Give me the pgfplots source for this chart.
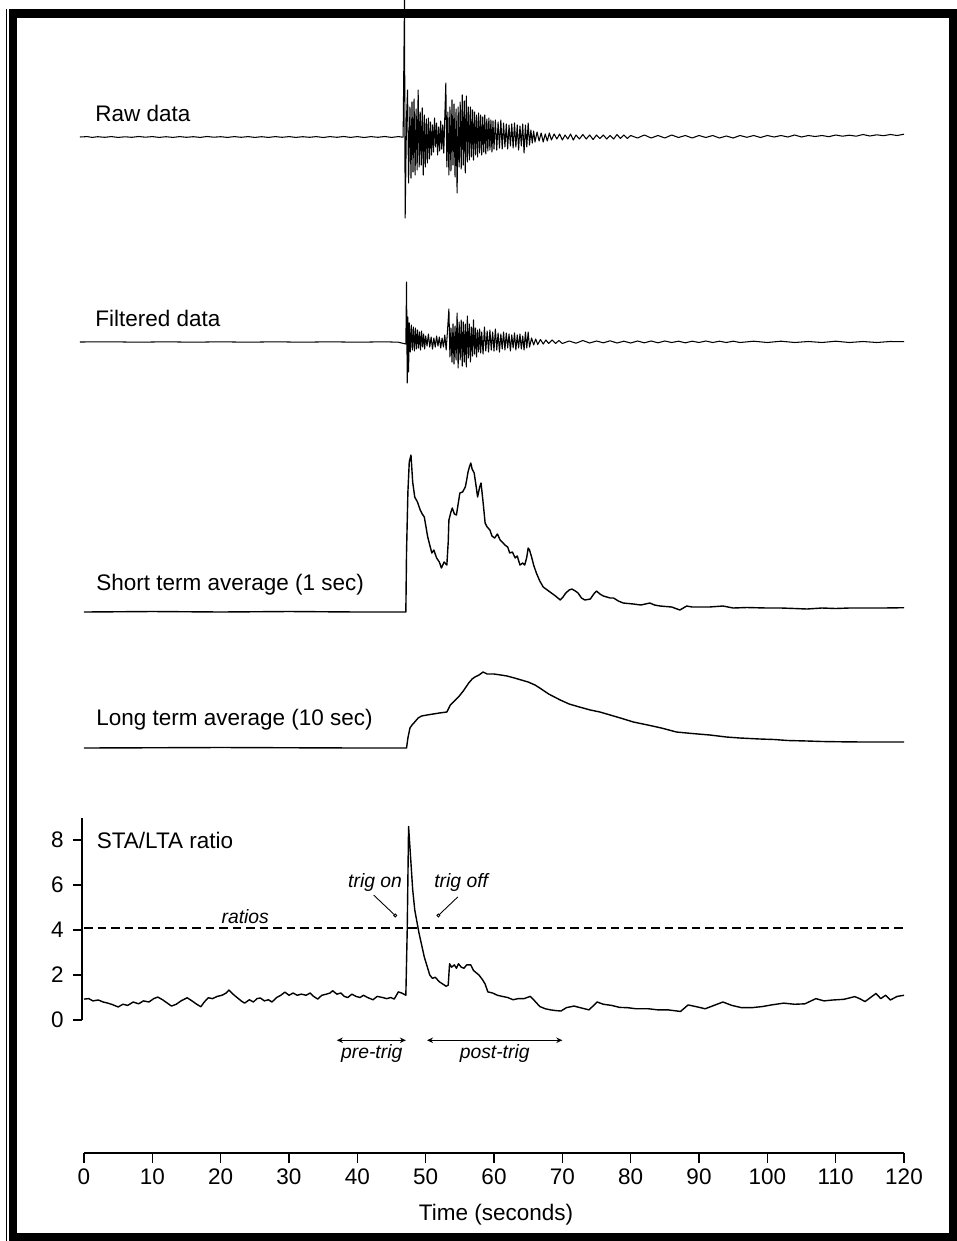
\documentclass[border=0pt]{standalone}
\usepackage{fontspec}
\setmainfont{Liberation Sans}
\usepackage{pgfplots}
\pgfplotsset{compat=1.18}
\usetikzlibrary{arrows.meta}

% one pixel of the reference = 0.2mm; 1 s = 6.8333 px
\pgfplotsset{
  trace/.style={hide axis, x=1.366667mm, y=0.2mm, xmin=-1, xmax=121,
    clip=false, anchor=origin, line join=round},
  /pgf/number format/assume math mode=true,
}
\newcommand{\lab}{\fontsize{12.8}{15}\selectfont}
\newcommand{\ilab}{\fontsize{11}{13}\selectfont\itshape}

\begin{document}
\begin{tikzpicture}[font=\lab]
\useasboundingbox (0,0) rectangle (191.4mm,-248.2mm);
\draw[line width=1.7mm] (2.6mm,-2.7mm) rectangle (190.6mm,-247.4mm);
\draw[line width=0.3mm] (1.3mm,-1.8mm) -- (1.3mm,-248.2mm);

% ---------- raw data
\begin{axis}[trace, at={(16.8mm,-27.4mm)}, ymin=-100, ymax=140]
\addplot[black, line width=0.6pt] coordinates {
(-0.6,0)(0.5,0.4)(1.2,-0.4)(2,0.3)(3,-0.3)(4,0.4)(5,-0.4)(6,0.2)(7,-0.3)(8,0.5)(9,-0.2)(10,0.4)
(11,-0.4)(12,0.3)(13,-0.4)(14,0.4)(15,-0.3)(16,0.3)(17,-0.4)(18,0.5)(19,-0.2)(20,0.3)(21,-0.4)
(22,0.4)(23,-0.3)(24,0.4)(25,-0.4)(26,0.3)(27,-0.4)(28,0.4)(29,-0.3)(30,0.4)(31,-0.4)(32,0.3)
(33,-0.3)(34,0.4)(35,-0.5)(36,0.4)(37,-0.3)(38,0.5)(39,-0.4)(40,0.4)(41,-0.5)(42,0.4)(43,-0.3)
(44,0.5)(45,-0.4)(46,0.4)(46.7,-0.2)
(46.9,137)(47.0,-81)(47.2,20)(47.35,47)(47.5,-46)(47.7,30)(47.85,-41)(48.0,35)(48.15,-35)
(48.3,38)(48.45,-38)(48.6,28)(48.75,-33)(48.9,47)(49.05,-30)(49.2,25)(49.35,-28)(49.5,29)
(49.65,-38)(49.8,22)(49.95,-30)(50.1,18)(50.25,-26)(50.4,19)(50.55,-22)(50.7,15)(50.85,-18)
(51.0,12)(51.15,-15)(51.3,19)(51.45,-10)(51.6,14)(51.75,-18)(51.9,10)(52.05,-14)(52.2,16)
(52.35,-12)(52.5,12)(52.65,-16)(52.8,20)(52.95,54)(53.1,-30)(53.25,25)(53.4,-38)(53.55,30)
(53.7,-34)(53.85,37)(54.0,-28)(54.15,33)(54.3,-40)(54.45,28)(54.6,-56)(54.75,30)(54.9,-30)
(55.05,35)(55.2,-32)(55.35,42)(55.5,-28)(55.65,36)(55.8,-36)(55.95,41)(56.1,-25)(56.25,30)
(56.4,-23)(56.55,30)(56.7,-20)(56.85,27)(57.0,-23)(57.15,25)(57.3,-18)(57.45,22)(57.6,-20)
(57.75,24)(57.9,-16)(58.05,22)(58.2,-18)(58.35,20)(58.5,-15)(58.65,22)(58.8,-17)(58.95,18)
(59.1,-14)(59.25,19)(59.4,-13)(59.55,17)(59.7,-15)(59.85,16)(60.0,-12)(60.2,17)(60.4,-13)
(60.6,15)(60.8,-11)(61.0,17)(61.2,-12)(61.4,14)(61.6,-10)(61.8,13)(62.0,-12)(62.2,12)
(62.4,-9)(62.6,13)(62.8,-11)(63.0,14)(63.2,-10)(63.4,12)(63.6,-13)(63.8,11)(64.0,-9)
(64.2,13)(64.4,-16)(64.6,12)(64.8,-10)(65.0,14)(65.2,-8)(65.4,7)(65.6,-6)(65.8,6)(66.0,-5)
(66.3,5)(66.6,-4)(66.9,4)(67.2,-5)(67.5,3)(67.8,-4)(68.1,4)(68.4,-3)(68.8,3)(69.2,-2)
(69.6,3)(70.0,-3)(70.4,2)(70.8,-2)(71.2,3)(71.6,-3)(72.0,2)(72.5,-2)(73.0,2.5)(73.5,-2)
(74.0,2)(74.5,-2.5)(75.0,2)(75.5,-1.5)(76,2)(76.5,-2)(77,1.5)(77.5,-2)(78,2.5)(78.5,-1.5)(79,2)
(79.5,-1.5)(80,1.5)(81,-1)(82,2)(83,-1)(84,1.5)(85,-1)(86,2)(87,-0.5)(88,1.5)(89,-1)(90,1.5)
(91,-0.5)(92,1.5)(93,-1)(94,1)(95,-1)(96,1.5)(97,-0.3)(98,1.5)(99,-0.5)(100,1.5)(101,0)(102,1.5)
(103,0)(104,2)(105,0)(106,1.5)(107,0.5)(108,1.5)(109,0.3)(110,2)(111,0.8)(112,1.8)(113,0.8)
(114,2.5)(115,1)(116,2.2)(117,1.3)(118,2.5)(119,1.5)(120,2.8)};
\node[anchor=base west, inner sep=0pt] at (axis cs:1.6,16) {Raw data};
\end{axis}

% ---------- filtered data
\begin{axis}[trace, at={(16.8mm,-68.4mm)}, ymin=-60, ymax=80]
\addplot[black, line width=0.6pt] coordinates {
(-0.6,0)(4,0.2)(8,-0.2)(12,0.2)(16,-0.2)(20,0.2)(24,-0.2)(28,0.2)(32,-0.2)(36,0.2)(40,-0.2)
(44,0.2)(46,-0.2)(47.1,-2)
(47.2,60)(47.3,-41)(47.4,25)(47.5,-30)(47.6,19)(47.75,-10)(47.9,17)(48.05,-8)(48.2,15)
(48.35,-9)(48.5,14)(48.65,-7)(48.8,12)(48.95,-6)(49.1,10)(49.25,-8)(49.4,11)(49.55,-5)
(49.7,8)(49.85,-7)(50.0,6)(50.2,-4)(50.4,8)(50.6,-5)(50.8,5)(51.0,-7)(51.2,4)(51.4,-5)
(51.6,6)(51.8,-4)(52.0,5)(52.2,-6)(52.4,4)(52.6,-5)(52.8,7)(53.0,-8)(53.2,12)(53.4,33)
(53.55,-15)(53.7,14)(53.85,-20)(54.0,18)(54.15,-22)(54.3,16)(54.45,-18)(54.6,29)(54.75,-26)
(54.9,20)(55.05,-18)(55.2,22)(55.35,-24)(55.5,20)(55.65,-20)(55.8,18)(55.95,-25)(56.1,26)
(56.25,-16)(56.4,18)(56.55,-20)(56.7,15)(56.85,-14)(57.0,22)(57.15,-12)(57.3,14)(57.45,-15)
(57.6,12)(57.75,-10)(57.9,13)(58.05,-11)(58.2,10)(58.4,-12)(58.6,15)(58.8,-9)(59.0,11)
(59.2,-10)(59.4,12)(59.6,-8)(59.8,10)(60.0,-9)(60.2,13)(60.4,-8)(60.6,9)(60.8,-10)(61.0,8)
(61.2,-7)(61.4,10)(61.6,-8)(61.8,9)(62.0,-6)(62.2,8)(62.4,-9)(62.6,7)(62.8,-6)(63.0,9)
(63.2,-8)(63.4,7)(63.6,-6)(63.8,8)(64.0,-7)(64.2,6)(64.4,-8)(64.6,10)(64.8,-6)(65.0,10)
(65.2,-5)(65.5,4)(65.8,-3)(66.1,3)(66.4,-2.5)(66.8,2.5)(67.2,-2)(67.6,2)(68.0,-1.5)(68.5,2)
(69,-1.5)(69.5,1.5)(70,-1.5)(71,1)(72,-1.2)(73,1.5)(74,-1)(75,1)(76,-0.8)(77,1.2)(78,-1)
(79,0.8)(80,-1)(81,1)(82,-0.8)(83,1)(84,-0.8)(85,1)(86,-0.5)(87,0.8)(88,-0.8)(89,0.8)
(90,-0.5)(91,1)(92,-0.5)(93,0.8)(94,-0.5)(95,0.8)(96,-0.5)(98,0.8)(100,-0.5)(102,0.8)
(104,-0.5)(106,0.5)(108,-0.5)(110,0.8)(112,-0.5)(114,0.5)(116,-0.5)(118,0.5)(120,0.3)};
\node[anchor=base west, inner sep=0pt] at (axis cs:1.6,16) {Filtered data};
\end{axis}

% ---------- short term average
\begin{axis}[trace, at={(16.8mm,-122.4mm)}, ymin=-10, ymax=170]
\addplot[black, line width=0.8pt] coordinates {
(0,0)(10,0.5)(20,0)(30,0.5)(40,0)(47.1,0)(47.2,60)(47.4,120)(47.6,150)(47.85,157)(48.1,130)
(48.4,115)(48.8,110)(49.2,102)(49.5,98)(49.8,95)(50.3,75)(50.9,59)(51.2,62)(51.6,54)(52.0,50)
(52.3,44)(52.7,50)(53.1,47)(53.3,70)(53.4,92)(53.7,100)(53.9,104)(54.2,98)(54.5,97)(54.8,110)
(55.0,119)(55.4,120)(55.8,125)(56.0,132)(56.2,140)(56.4,145)(56.6,149)(56.8,143)(57.1,139)
(57.4,125)(57.6,115)(57.9,125)(58.1,129)(58.4,110)(58.7,89)(59.0,85)(59.4,82)(59.7,76)
(60.1,74)(60.5,78)(60.9,72)(61.2,70)(61.6,67)(62.0,65)(62.3,59)(62.7,60)(63.1,54)(63.4,56)
(63.8,47)(64.2,49)(64.5,47)(64.8,55)(65.0,64)(65.2,62)(65.5,55)(65.8,47)(66.2,39)(66.7,31)
(67.2,25)(67.8,22)(68.4,19)(69.0,16)(69.7,12)(70.1,15)(70.5,19)(71.0,22)(71.4,23)(71.9,21)
(72.3,19)(72.8,14)(73.3,12)(74.1,13)(74.6,18)(75.0,21)(75.5,18)(76.0,16)(77.0,14)(77.5,14)
(78.2,11)(78.9,9)(80.4,8)(81.5,7)(82.8,9)(83.5,7)(84.3,6)(86,5)(87.2,2)(88.2,6)(89,5)
(90.2,5)(91.5,5)(93.5,6)(95,4)(97,4.5)(99.9,4)(102,4)(104,3.5)(105.8,3)(108,4)(110,3.5)
(112,4)(114.5,4)(117,4)(120,4.3)};
\node[anchor=base west, inner sep=0pt] at (axis cs:1.76,22) {Short term average (1 sec)};
\end{axis}

% ---------- long term average
\begin{axis}[trace, at={(16.8mm,-149.6mm)}, ymin=-10, ymax=90]
\addplot[black, line width=0.8pt] coordinates {
(0,0)(20,0.5)(40,0)(47.2,0)(47.4,10)(47.7,20)(48.0,23)(48.4,26)(48.9,30)(49.4,32)(50.2,33)
(51.1,34)(52.0,35)(53.1,36)(53.4,40)(53.6,43)(54.2,47)(54.8,51)(55.5,57)(56.3,65)(56.8,69)
(57.2,71)(57.8,73)(58.4,76)(58.7,75)(59.0,74)(60.0,74)(61.0,73)(61.9,72)(63.0,70)(64.0,68)
(65.0,66)(66.0,63)(66.7,60)(68.0,54)(69.7,48)(71.0,44)(72.5,41)(74.1,38)(75.5,36)(77,33)
(78.5,30)(80.4,26)(82.5,23)(84.5,20)(86.7,16)(89,14.5)(91.6,13)(94,11)(96,10)(98.9,9)
(101,8.5)(103,7.5)(105.8,7)(108,6.5)(111,6.2)(114,6)(117,6)(120,6)};
\node[anchor=base west, inner sep=0pt] at (axis cs:1.76,23) {Long term average (10 sec)};
\end{axis}

% ---------- STA/LTA ratio
\begin{axis}[at={(16.8mm,-204mm)}, anchor=origin, x=1.366667mm, y=4.5mm,
  xmin=-0.3, xmax=121, ymin=0, ymax=9, clip=false,
  axis x line=none, axis y line=left, axis line style={-, line width=0.8pt},
  ytick={0,2,4,6,8}, tick align=outside, major tick length=1.8mm,
  tick style={black, line width=0.8pt},
  yticklabel style={font=\lab, xshift=-0.6mm}]
\addplot[black, line width=1pt, dash pattern=on 1.7mm off 1.0mm] coordinates {(0,4.1)(120.5,4.1)};
\addplot[black, line width=0.8pt, line join=round] coordinates {
(0,0.93)(0.7,0.95)(1.3,0.85)(2.1,0.89)(2.8,0.8)(3.5,0.75)(4.2,0.68)(5,0.58)(5.7,0.7)(6.4,0.65)
(7.2,0.8)(8,0.72)(8.7,0.85)(9.5,0.8)(10.2,0.95)(10.8,1.02)(11.5,0.9)(12.2,0.75)(12.8,0.62)
(13.5,0.7)(14.2,0.85)(15.1,0.99)(15.8,0.85)(16.5,0.7)(17.1,0.59)(17.6,0.8)(18.2,0.99)(18.8,0.95)
(19.5,1.05)(20.2,1.1)(20.8,1.2)(21.2,1.33)(21.8,1.15)(22.4,1.0)(23,0.85)(23.5,0.75)(24.2,0.9)
(24.8,0.8)(25.3,0.95)(25.8,0.98)(26.4,0.85)(27,0.9)(27.5,0.8)(28.2,1.0)(28.8,1.1)(29.4,1.24)
(30,1.1)(30.6,1.2)(31.2,1.1)(31.8,1.15)(32.5,1.1)(33.1,1.2)(33.6,1.05)(34.2,0.93)(34.8,1.1)
(35.5,1.15)(36.0,1.2)(36.4,1.3)(37.0,1.15)(37.6,1.2)(38.1,1.05)(38.6,1.0)(39.2,1.15)(39.8,1.05)
(40.4,1.0)(40.9,1.1)(41.5,1.0)(42.3,0.9)(42.9,1.05)(43.7,1.0)(44.3,0.95)(44.9,1.0)(45.4,0.93)
(46,1.25)(46.5,1.2)(47.1,1.1)(47.3,4)(47.5,8.6)(47.8,7.2)(48.1,5.8)(48.4,4.9)(49,3.9)(49.8,2.8)
(50.6,2.0)(51.0,1.85)(51.4,1.9)(52,1.7)(52.5,1.6)(53,1.5)(53.3,1.55)(53.5,2.5)(53.8,2.35)
(54.2,2.45)(54.5,2.3)(54.8,2.5)(55.2,2.35)(55.6,2.3)(56.0,2.45)(56.6,2.45)(57.0,2.2)(57.4,2.1)
(57.8,2.0)(58.3,1.8)(58.7,1.6)(59.1,1.25)(59.8,1.2)(60.5,1.1)(61.2,1.05)(62,1.0)(62.8,0.9)
(63.5,0.95)(64.4,0.95)(65.3,1.05)(65.8,0.9)(66.7,0.6)(67.5,0.5)(68.3,0.45)(69,0.42)(69.8,0.4)
(70.6,0.55)(71.7,0.62)(72.6,0.55)(73.9,0.45)(75.1,0.8)(76,0.7)(77.2,0.65)(78.4,0.56)(79.5,0.55)
(80.8,0.5)(82.6,0.5)(84,0.45)(85.5,0.45)(87.3,0.38)(88.4,0.67)(89.5,0.6)(90.9,0.5)(92.2,0.65)
(93.5,0.8)(94.8,0.65)(96.2,0.55)(97.8,0.55)(99.3,0.6)(100.8,0.68)(102.4,0.75)(104,0.7)
(105.5,0.72)(107.1,0.95)(108.3,0.85)(109.6,0.89)(111.2,0.92)(112.8,1.04)(113.5,0.95)(114.3,0.82)
(115.1,1.0)(115.9,1.18)(116.6,0.95)(117.3,1.1)(118,0.89)(119,1.05)(120,1.1)};
\node[anchor=base west, inner sep=0pt] at (axis cs:1.83,7.64) {STA/LTA ratio};
\node[anchor=base, inner sep=0pt, font=\ilab] at (axis cs:23.6,4.27) {ratios};
\node[anchor=base, inner sep=0pt, font=\ilab] at (axis cs:42.6,5.87) {trig on};
\node[anchor=base, inner sep=0pt, font=\ilab] at (axis cs:55.2,5.87) {trig off};
\draw[line width=0.5pt, -{Square[open, length=0.6mm, width=0.6mm]}] (axis cs:42.4,5.55) -- (axis cs:45.7,4.6);
\draw[line width=0.5pt, -{Square[open, length=0.6mm, width=0.6mm]}] (axis cs:54.7,5.47) -- (axis cs:51.7,4.6);
\draw[line width=0.6pt, {Stealth[open, length=1.2mm, width=1.1mm]}-{Stealth[open, length=1.2mm, width=1.1mm]}]
  (axis cs:37,-0.9) -- (axis cs:47.1,-0.9);
\draw[line width=0.6pt, {Stealth[open, length=1.2mm, width=1.1mm]}-{Stealth[open, length=1.2mm, width=1.1mm]}]
  (axis cs:50.2,-0.9) -- (axis cs:70,-0.9);
\node[anchor=base, inner sep=0pt, font=\ilab] at (axis cs:42.1,-1.69) {pre-trig};
\node[anchor=base, inner sep=0pt, font=\ilab] at (axis cs:60.1,-1.69) {post-trig};
\end{axis}

% ---------- time axis
\begin{axis}[at={(16.8mm,-230.6mm)}, anchor=origin, x=1.366667mm, y=1mm,
  xmin=0, xmax=120, ymin=0, ymax=1, clip=false,
  axis x line=bottom, axis y line=none, axis line style={-, line width=0.8pt},
  xtick distance=10, tick align=outside, major tick length=2mm,
  tick style={black, line width=0.8pt},
  xticklabel style={font=\lab}]
\end{axis}
\node[anchor=base, inner sep=0pt] at (99.2mm,-244mm) {Time (seconds)};
\end{tikzpicture}
\end{document}
